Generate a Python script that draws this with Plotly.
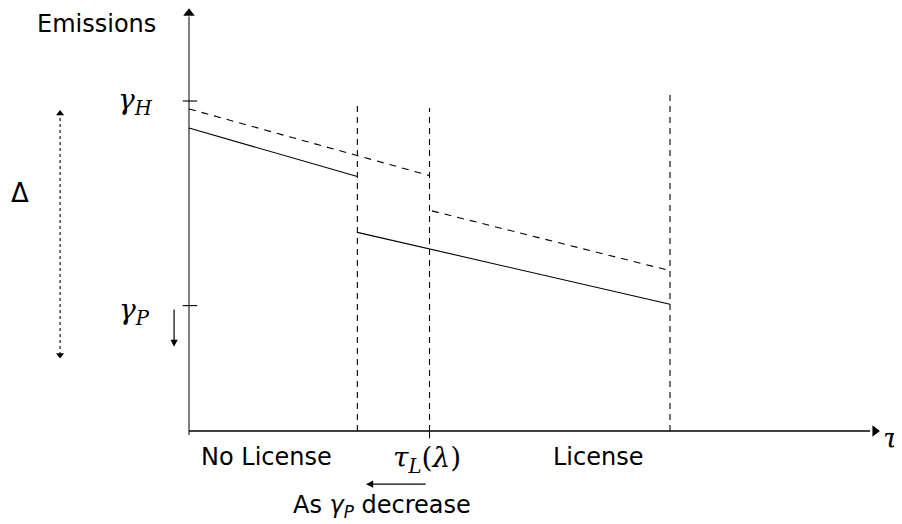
import plotly.graph_objects as go

# ---- schematic data (logical units) ----
tau_marks = [0, 3.5, 5, 10]            # origin, first cut, tau_L, end
gamma_H = 10.0
gamma_P = 3.8

solid_a_x = [0, 3.5];   solid_a_y = [9.18, 7.71]
dashed_a_x = [0, 5];    dashed_a_y = [9.76, 7.74]
solid_b_x = [3.5, 10];  solid_b_y = [6.02, 3.84]
dashed_b_x = [5.05, 10]; dashed_b_y = [6.67, 4.86]
vline_tops = [9.85, 9.79, 10.27]
vline_x = [3.5, 5, 10]

x_axis_end = 14.26
y_axis_top = 12.66

SANS = "DejaVu Sans"
SERIF = "DejaVu Serif"

fig = go.Figure()

def line(x, y, dash="solid", width=1.1, color="black"):
    fig.add_trace(go.Scatter(x=x, y=y, mode="lines", line=dict(color=color, width=width, dash=dash),
                             hoverinfo="skip", showlegend=False))

# axes
line([0, 0], [-0.12, y_axis_top - 0.1], width=1.5, color="#555")
line([0, x_axis_end - 0.1], [0, 0], width=1.3)
fig.add_trace(go.Scatter(x=[0], y=[y_axis_top], mode="markers",
                         marker=dict(symbol="triangle-up", size=10, color="black"),
                         hoverinfo="skip", showlegend=False))
fig.add_trace(go.Scatter(x=[x_axis_end], y=[0], mode="markers",
                         marker=dict(symbol="triangle-right", size=10, color="black"),
                         hoverinfo="skip", showlegend=False))
# ticks
line([-0.13, 0.17], [gamma_H, gamma_H], width=1.1)
line([-0.13, 0.17], [gamma_P, gamma_P], width=1.1)
line([tau_marks[2], tau_marks[2]], [0, -0.22], width=1.1)

# vertical dashed lines
for vx, vt in zip(vline_x, vline_tops):
    line([vx, vx], [0, vt], dash="6px,5px", width=1.1)

# emission paths
line(solid_a_x, solid_a_y)
line(dashed_a_x, dashed_a_y, dash="7px,6px")
line(solid_b_x, solid_b_y)
line(dashed_b_x, dashed_b_y, dash="7px,6px")

# Delta dotted double arrow
delta_x = -2.68
delta_y = [2.3, 9.62]
line([delta_x, delta_x], delta_y, dash="dot", width=1.1)
fig.add_trace(go.Scatter(x=[delta_x, delta_x], y=[delta_y[1], delta_y[0]], mode="markers",
                         marker=dict(symbol=["triangle-up", "triangle-down"], size=7, color="black"),
                         hoverinfo="skip", showlegend=False))

# arrows
fig.add_annotation(x=-0.31, y=2.55, ax=-0.31, ay=3.73, xref="x", yref="y", axref="x", ayref="y",
                   showarrow=True, arrowhead=2, arrowsize=1.2, arrowwidth=1.2, arrowcolor="black", text="")
fig.add_annotation(x=3.68, y=-1.61, ax=4.95, ay=-1.61, xref="x", yref="y", axref="x", ayref="y",
                   showarrow=True, arrowhead=2, arrowsize=1.2, arrowwidth=1.2, arrowcolor="black", text="")

def label(x, y, text, size=24, family=SANS):
    fig.add_annotation(x=x, y=y, xref="x", yref="y", text=text, showarrow=False,
                       font=dict(family=family, size=size, color="black"),
                       xanchor="center", yanchor="middle")

label(-1.93, 12.33, "Emissions")
label(-1.12, 10.0, "<i>γ</i><sub><i>H</i></sub>", family=SERIF, size=28)
label(-1.14, 3.62, "<i>γ</i><sub><i>P</i></sub>", family=SERIF, size=28)
label(-3.51, 7.21, "Δ", size=26)
label(1.62, -0.79, "No License")
label(4.95, -0.85, "<i>τ</i><sub><i>L</i></sub>(<i>λ</i>)", family=SERIF, size=28)
label(8.5, -0.79, "License")
label(4.01, -2.3, "As <i>γ</i><sub><i>P</i></sub> decrease", size=24)
label(14.6, -0.22, "<i>τ</i>", family=SERIF, size=28)

# page body has an 8px margin: size the figure to fit and shift ranges so marks land at reference pixels
fig.update_layout(
    width=894, height=516,
    margin=dict(l=0, r=0, t=0, b=0),
    paper_bgcolor="white", plot_bgcolor="white",
    xaxis=dict(range=[-3.763, 14.823], visible=False, fixedrange=True),
    yaxis=dict(range=[-2.818, 12.818], visible=False, fixedrange=True),
    showlegend=False,
)

fig.write_html("out.html")
